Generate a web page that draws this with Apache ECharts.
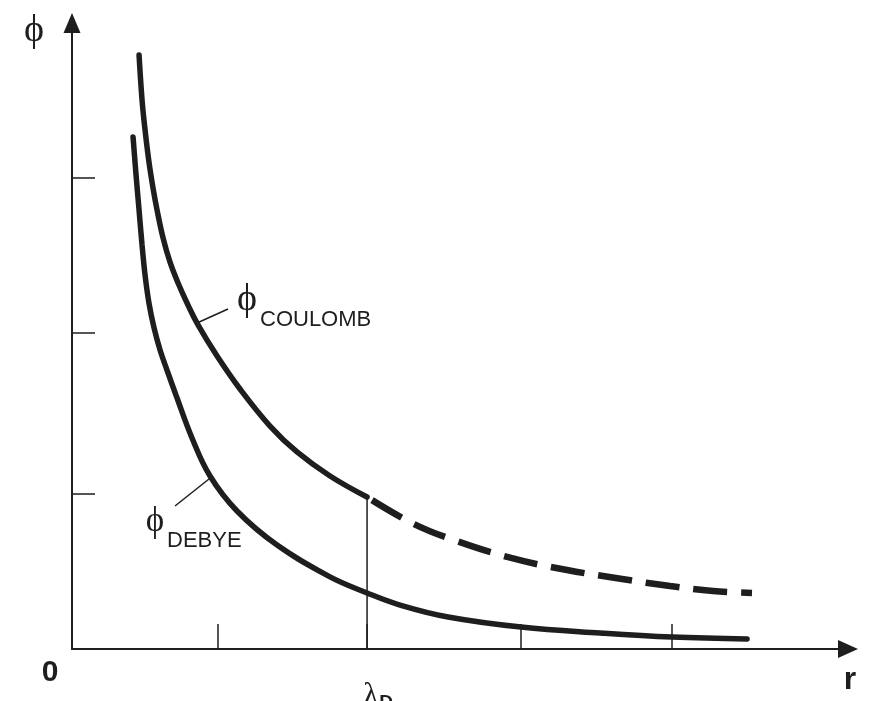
<!DOCTYPE html>
<html>
<head>
<meta charset="utf-8">
<script src="https://cdn.jsdelivr.net/npm/echarts@6/dist/echarts.min.js"></script>
<style>
html,body{margin:0;padding:0;background:#fff;}
#chart{width:873px;height:701px;}
</style>
</head>
<body>
<div id="chart"></div>
<script>
// ---- data (x in units of one x-tick step, y in units of one y-tick step) ----
const xTickValues = [0.973, 1.967, 2.993, 4.0];
const yTickValues = [0.987, 2.013, 3.0];
const lambdaD = 1.967;
const lambdaLabel = 'λD';

const coulombX = [0.447, 0.467, 0.487, 0.513, 0.540, 0.567, 0.607, 0.653, 0.707, 0.773, 0.840, 0.967, 1.120, 1.320, 1.500, 1.720, 1.967];
const coulombY = [3.783, 3.497, 3.306, 3.102, 2.936, 2.796, 2.618, 2.465, 2.331, 2.191, 2.064, 1.866, 1.656, 1.420, 1.255, 1.102, 0.968];

const coulombTailX = [1.967, 2.253, 2.507, 2.927, 3.300, 3.667, 3.987, 4.273, 4.533];
const coulombTailY = [0.968, 0.809, 0.707, 0.580, 0.503, 0.446, 0.401, 0.369, 0.357];

const debyeX = [0.407, 0.427, 0.447, 0.467, 0.487, 0.513, 0.547, 0.587, 0.633, 0.693, 0.800, 0.920, 1.100, 1.367, 1.720, 1.967, 2.187, 2.507, 2.993, 3.520, 4.000, 4.500];
const debyeY = [3.261, 3.019, 2.796, 2.573, 2.382, 2.204, 2.045, 1.904, 1.777, 1.618, 1.344, 1.102, 0.879, 0.662, 0.459, 0.357, 0.280, 0.204, 0.140, 0.102, 0.076, 0.064];

const zip = (xs, ys) => xs.map((x, i) => [x, ys[i]]);

const INK = '#1e1e1e';
const PHI = 'ϕ';
const chart = echarts.init(document.getElementById('chart'), null, {renderer: 'canvas'});

chart.setOption({
  animation: false,
  backgroundColor: '#ffffff',
  grid: {left: 72, right: 25, top: 23, bottom: 52, containLabel: false, outerBoundsMode: 'none'},
  xAxis: {
    type: 'value', min: 0, max: 5.173,
    splitLine: {show: false},
    axisLine: {show: true, onZero: false, lineStyle: {color: INK, width: 2}, symbol: ['none', 'triangle'], symbolSize: [18, 20]},
    axisTick: {show: true, inside: true, length: 25, customValues: xTickValues, lineStyle: {color: INK, width: 1.5}},
    axisLabel: {
      show: true, customValues: [lambdaD], margin: 31,
      formatter: () => '{l|' + lambdaLabel.charAt(0) + '}{d|' + lambdaLabel.slice(1) + '}',
      rich: {
        l: {fontFamily: 'Liberation Serif', fontSize: 31, color: INK, verticalAlign: 'top', padding: [0, 0, 0, 22]},
        d: {fontFamily: 'Liberation Sans', fontWeight: 'bold', fontSize: 19, color: INK, verticalAlign: 'top', padding: [13, 0, 0, 1]}
      }
    }
  },
  yAxis: {
    type: 'value', min: 0, max: 3.987,
    splitLine: {show: false},
    axisLine: {show: true, onZero: false, lineStyle: {color: INK, width: 2}, symbol: ['none', 'triangle'], symbolSize: [17, 20]},
    axisTick: {show: true, inside: true, length: 23, customValues: yTickValues, lineStyle: {color: INK, width: 1.5}},
    axisLabel: {show: false}
  },
  series: [
    {
      name: 'φ COULOMB', type: 'line', data: zip(coulombX, coulombY), symbol: 'none', smooth: 0.4,
      lineStyle: {color: INK, width: 5.5, cap: 'round'}, z: 3
    },
    {
      name: 'φ COULOMB (dashed)', type: 'line', data: zip(coulombTailX, coulombTailY), symbol: 'none', smooth: 0.4,
      lineStyle: {color: INK, width: 6.5, type: [34, 14], dashOffset: -6, cap: 'butt'}, z: 3
    },
    {
      name: 'φ DEBYE', type: 'line', data: zip(debyeX, debyeY), symbol: 'none', smooth: 0.4,
      lineStyle: {color: INK, width: 5.5, cap: 'round'}, z: 3
    },
    {
      name: 'λD', type: 'line', data: [[lambdaD, 0], [lambdaD, coulombTailY[0]]], symbol: 'none',
      lineStyle: {color: INK, width: 1.5}, z: 2
    }
  ],
  graphic: [
    {type: 'text', style: {text: PHI, x: 34, y: 31, textAlign: 'center', textVerticalAlign: 'middle', font: '38px "Liberation Serif"', fill: INK}},
    {type: 'text', style: {text: '0', x: 50, y: 673, textAlign: 'center', textVerticalAlign: 'middle', font: 'bold 30px "Liberation Sans"', fill: INK}},
    {type: 'text', style: {text: 'r', x: 850, y: 680, textAlign: 'center', textVerticalAlign: 'middle', font: 'bold 32px "Liberation Sans"', fill: INK}},
    {type: 'line', shape: {x1: 197, y1: 323, x2: 228, y2: 309}, style: {stroke: INK, lineWidth: 1.5}},
    {type: 'text', style: {text: PHI, x: 247, y: 300, textAlign: 'center', textVerticalAlign: 'middle', font: '38px "Liberation Serif"', fill: INK}},
    {type: 'text', style: {text: 'COULOMB', x: 260, y: 320, textAlign: 'left', textVerticalAlign: 'middle', font: '22px "Liberation Sans"', fill: INK}},
    {type: 'line', shape: {x1: 175, y1: 506, x2: 209, y2: 479}, style: {stroke: INK, lineWidth: 1.5}},
    {type: 'text', style: {text: PHI, x: 155, y: 522, textAlign: 'center', textVerticalAlign: 'middle', font: '35px "Liberation Serif"', fill: INK}},
    {type: 'text', style: {text: 'DEBYE', x: 167, y: 541, textAlign: 'left', textVerticalAlign: 'middle', font: '22px "Liberation Sans"', fill: INK}}
  ]
});
</script>
</body>
</html>
